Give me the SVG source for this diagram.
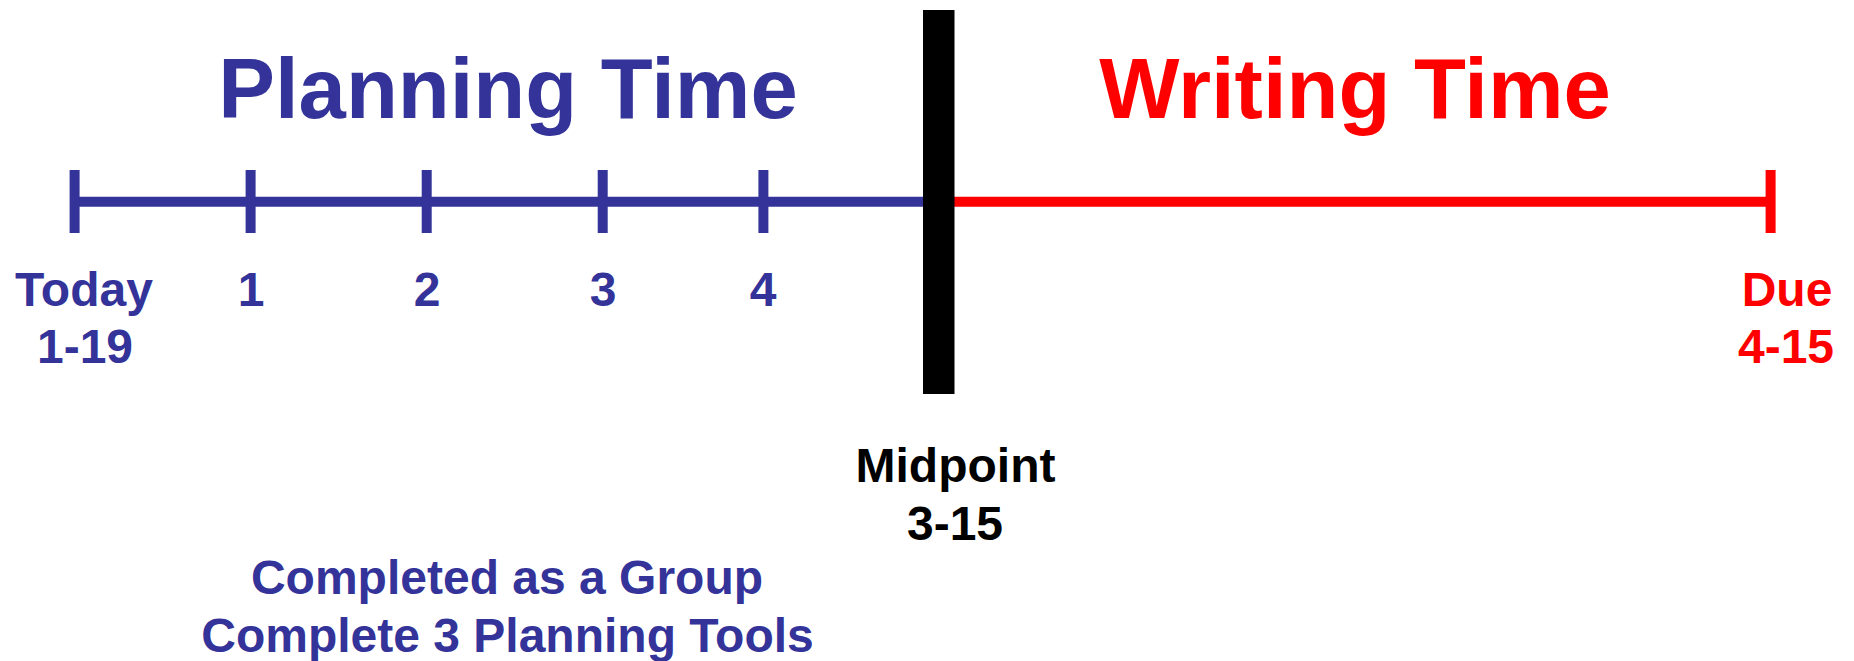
<svg xmlns="http://www.w3.org/2000/svg" width="1854" height="661" viewBox="0 0 1854 661">
  <style>
    text { font-family: "Liberation Sans", Arial, sans-serif; font-weight: bold; text-anchor: middle; }
    .title { font-size: 85px; }
    .lbl { font-size: 48px; }
    .plan { fill: #333399; }
    .write { fill: #FF0000; }
    .mid { fill: #000000; }
    .pline { stroke: #333399; stroke-width: 10; fill: none; }
    .wline { stroke: #FF0000; stroke-width: 10; fill: none; }
  </style>
  <rect width="1854" height="661" fill="#ffffff"/>

  <!-- section headings -->
  <g id="planning-title"><text class="title plan" x="508" y="118">Planning Time</text></g>
  <g id="writing-title"><text class="title write" x="1355" y="118">Writing Time</text></g>

  <!-- timeline axis and ticks -->
  <g id="connectors">
    <line class="pline" x1="74.6" y1="201.7" x2="925" y2="201.7"/>
    <line class="wline" x1="952" y1="201.7" x2="1770.6" y2="201.7"/>
    <line class="pline" x1="74.6" y1="170" x2="74.6" y2="233"/>
    <line class="pline" x1="250.6" y1="170" x2="250.6" y2="233"/>
    <line class="pline" x1="426.7" y1="170" x2="426.7" y2="233"/>
    <line class="pline" x1="602.7" y1="170" x2="602.7" y2="233"/>
    <line class="pline" x1="763.4" y1="170" x2="763.4" y2="233"/>
    <line class="wline" x1="1770.6" y1="170" x2="1770.6" y2="233"/>
  </g>

  <!-- midpoint divider -->
  <g id="midpoint-bar"><rect x="923" y="10" width="31.5" height="384" fill="#000000"/></g>

  <!-- tick labels -->
  <g id="today">
    <text class="lbl plan" x="84" y="306">Today</text>
    <text class="lbl plan" x="85" y="363">1-19</text>
  </g>
  <g id="week1"><text class="lbl plan" x="251" y="306">1</text></g>
  <g id="week2"><text class="lbl plan" x="427" y="306">2</text></g>
  <g id="week3"><text class="lbl plan" x="603" y="306">3</text></g>
  <g id="week4"><text class="lbl plan" x="763" y="306">4</text></g>
  <g id="due">
    <text class="lbl write" x="1787" y="306">Due</text>
    <text class="lbl write" x="1786" y="363">4-15</text>
  </g>
  <g id="midpoint">
    <text class="lbl mid" x="955.5" y="482">Midpoint</text>
    <text class="lbl mid" x="955" y="540">3-15</text>
  </g>

  <!-- planning note -->
  <g id="planning-note">
    <text class="lbl plan" x="507" y="594">Completed as a Group</text>
    <text class="lbl plan" x="507.5" y="652">Complete 3 Planning Tools</text>
  </g>
</svg>
